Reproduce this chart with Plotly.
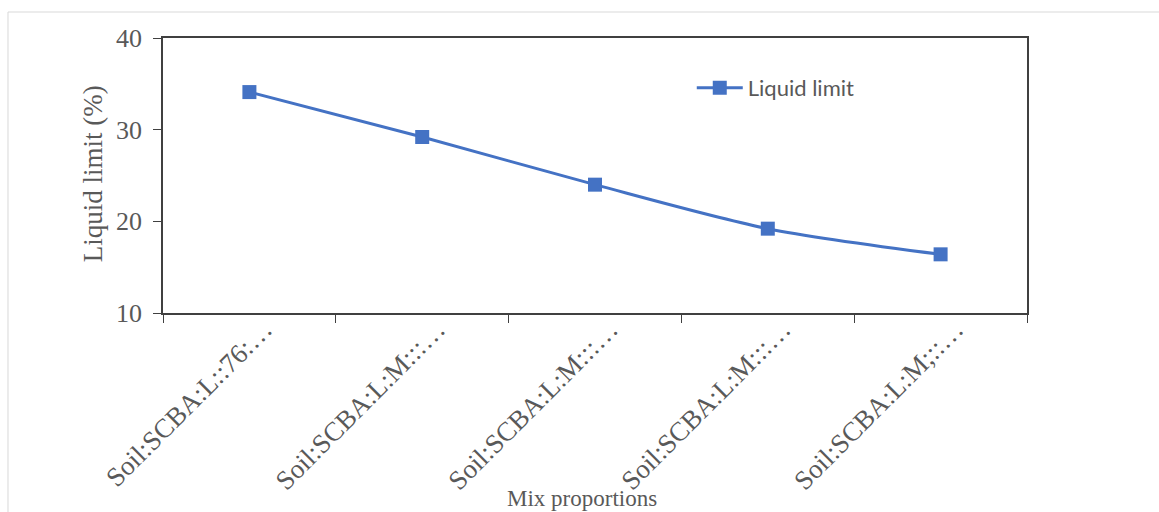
import plotly.graph_objects as go

# Mix proportions (category labels as shown on the axis) and liquid limit values
mixes = [
    "Soil:SCBA:L::76:…",
    "Soil:SCBA:L:M:::…",
    "Soil:SCBA:L:M:::…",
    "Soil:SCBA:L:M:::…",
    "Soil:SCBA:L:M;::…",
]
liquid_limit = [34.1, 29.2, 24.0, 19.2, 16.4]
y_ticks = [10, 20, 30, 40]

# unique category keys so that identical labels still get their own slot
keys = [f"c{i}" for i in range(len(mixes))]

SERIF = "Liberation Serif, Times New Roman, serif"
GREY = "#595959"
BLUE = "#4472C4"

fig = go.Figure()
fig.add_trace(go.Scatter(
    x=keys,
    y=liquid_limit,
    mode="lines+markers",
    name="Liquid limit",
    line=dict(color=BLUE, width=3, shape="spline", smoothing=0.8),
    marker=dict(symbol="square", size=14, color=BLUE),
))

fig.update_layout(
    width=1159,
    height=512,
    margin=dict(l=163, r=132, t=38, b=199),
    paper_bgcolor="white",
    plot_bgcolor="white",
    showlegend=True,
    legend=dict(
        x=0.612, y=0.818, xanchor="left", yanchor="middle",
        font=dict(family="Lato, Open Sans, sans-serif", size=22, color=GREY),
        bgcolor="rgba(0,0,0,0)",
        itemwidth=46,
    ),
    xaxis=dict(
        type="category",
        automargin=False,
        tickmode="array",
        tickvals=keys,
        ticktext=mixes,
        tickangle=-45,
        tickson="boundaries",
        ticks="outside",
        ticklen=8,
        tickcolor="#404040",
        ticklabelshift=15,
        ticklabelstandoff=-12,
        showline=True,
        linecolor="#404040",
        linewidth=1.5,
        mirror=True,
        showgrid=False,
        tickfont=dict(family=SERIF, size=27, color=GREY),
        range=[-0.5, len(mixes) - 0.5],
    ),
    yaxis=dict(
        automargin=False,
        range=[10, 40],
        tickvals=y_ticks,
        ticks="outside",
        ticklen=8,
        tickcolor="#404040",
        ticklabelstandoff=6,
        showline=True,
        linecolor="#404040",
        linewidth=1.5,
        mirror=True,
        showgrid=False,
        zeroline=False,
        tickfont=dict(family=SERIF, size=26, color=GREY),
    ),
    shapes=[
        dict(type="rect", xref="paper", yref="paper",
             x0=-0.1794, x1=1.3, y0=-1.0, y1=1.0945,
             line=dict(color="#d9d9d9", width=1), fillcolor="rgba(0,0,0,0)",
             layer="below"),
    ],
    annotations=[
        dict(text="Mix proportions", xref="paper", yref="paper",
             x=0.485, y=-0.673, showarrow=False, xanchor="center", yanchor="middle",
             font=dict(family=SERIF, size=23, color=GREY)),
        dict(text="Liquid limit (%)", xref="paper", yref="paper",
             x=-0.081, y=0.505, showarrow=False, xanchor="center", yanchor="middle",
             textangle=-90,
             font=dict(family=SERIF, size=27, color=GREY)),
    ],
)

fig.write_html("out.html")
